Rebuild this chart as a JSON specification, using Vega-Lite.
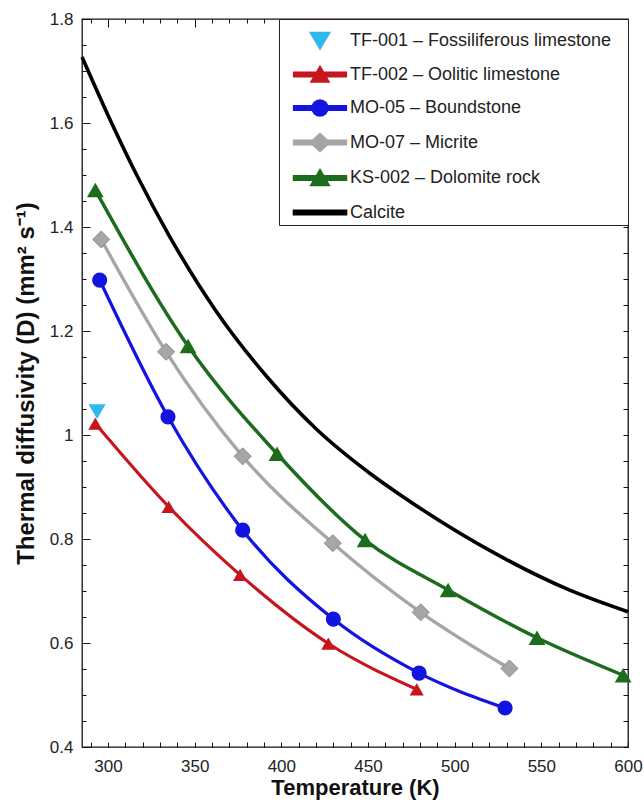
{
  "$schema": "https://vega.github.io/schema/vega-lite/v6.json",
  "width": 546,
  "height": 728,
  "autosize": "none",
  "padding": {"left": 82, "top": 19, "right": 16, "bottom": 58},
  "background": "white",
  "config": {"view": {"stroke": "#111", "strokeWidth": 1.3}},
  "data": {"values": [
    {"series": "TF-001 – Fossiliferous limestone", "T": 293.7, "D": 1.045},
    {"series": "TF-002 – Oolitic limestone", "T": 292.7, "D": 1.022},
    {"series": "TF-002 – Oolitic limestone", "T": 335.0, "D": 0.862},
    {"series": "TF-002 – Oolitic limestone", "T": 376.2, "D": 0.731},
    {"series": "TF-002 – Oolitic limestone", "T": 427.1, "D": 0.599},
    {"series": "TF-002 – Oolitic limestone", "T": 478.1, "D": 0.511},
    {"series": "MO-05 – Boundstone", "T": 295.2, "D": 1.298},
    {"series": "MO-05 – Boundstone", "T": 334.6, "D": 1.035},
    {"series": "MO-05 – Boundstone", "T": 377.7, "D": 0.817},
    {"series": "MO-05 – Boundstone", "T": 430.0, "D": 0.646},
    {"series": "MO-05 – Boundstone", "T": 479.5, "D": 0.542},
    {"series": "MO-05 – Boundstone", "T": 529.1, "D": 0.475},
    {"series": "MO-07 – Micrite", "T": 296.1, "D": 1.376},
    {"series": "MO-07 – Micrite", "T": 333.5, "D": 1.160},
    {"series": "MO-07 – Micrite", "T": 377.7, "D": 0.959},
    {"series": "MO-07 – Micrite", "T": 429.7, "D": 0.792},
    {"series": "MO-07 – Micrite", "T": 480.4, "D": 0.659},
    {"series": "MO-07 – Micrite", "T": 531.6, "D": 0.551},
    {"series": "KS-002 – Dolomite rock", "T": 292.7, "D": 1.471},
    {"series": "KS-002 – Dolomite rock", "T": 346.2, "D": 1.171},
    {"series": "KS-002 – Dolomite rock", "T": 397.5, "D": 0.964},
    {"series": "KS-002 – Dolomite rock", "T": 448.3, "D": 0.798},
    {"series": "KS-002 – Dolomite rock", "T": 496.2, "D": 0.702},
    {"series": "KS-002 – Dolomite rock", "T": 547.5, "D": 0.610},
    {"series": "KS-002 – Dolomite rock", "T": 597.2, "D": 0.538},
    {"series": "Calcite", "T": 285.0, "D": 1.727},
    {"series": "Calcite", "T": 300.0, "D": 1.615},
    {"series": "Calcite", "T": 316.7, "D": 1.499},
    {"series": "Calcite", "T": 335.0, "D": 1.385},
    {"series": "Calcite", "T": 362.0, "D": 1.240},
    {"series": "Calcite", "T": 391.7, "D": 1.112},
    {"series": "Calcite", "T": 420.0, "D": 1.012},
    {"series": "Calcite", "T": 451.2, "D": 0.926},
    {"series": "Calcite", "T": 472.5, "D": 0.876},
    {"series": "Calcite", "T": 526.2, "D": 0.767},
    {"series": "Calcite", "T": 564.7, "D": 0.704},
    {"series": "Calcite", "T": 600.0, "D": 0.660}
  ]},
  "resolve": {"axis": {"x": "independent", "y": "independent"}},
  "layer": [
    {
      "mark": {"type": "point", "filled": true, "opacity": 0, "size": 50},
      "encoding": {
        "x": {"field": "T", "type": "quantitative",
          "scale": {"domain": [285, 600], "nice": false, "zero": false},
          "axis": {"orient": "bottom", "title": "Temperature (K)", "domain": false, "ticks": false,
            "values": [290,300,310,320,330,340,350,360,370,380,390,400,410,420,430,440,450,460,470,480,490,500,510,520,530,540,550,560,570,580,590,600],
            "labelExpr": "datum.value % 50 === 0 ? datum.label : ''",
            "grid": true, "gridColor": "#111", "gridOpacity": 1, "gridWidth": 1,
            "gridDash": {"condition": {"test": "datum.value % 50 === 0", "value": [8, 2000]}, "value": [4, 2000]},
            "labelOverlap": false, "labelFlush": false,
            "labelFont": "Liberation Sans", "labelFontSize": 17, "labelColor": "#222", "labelPadding": 11,
            "titleFont": "Liberation Sans", "titleFontSize": 22, "titleFontWeight": "bold", "titleColor": "#111", "titlePadding": 3}},
        "y": {"field": "D", "type": "quantitative",
          "scale": {"domain": [0.4, 1.8], "nice": false, "zero": false},
          "axis": {"orient": "left", "title": "Thermal diffusivity (D) (mm² s⁻¹)", "domain": false, "ticks": false,
            "values": [0.4,0.45,0.5,0.55,0.6,0.65,0.7,0.75,0.8,0.85,0.9,0.95,1.0,1.05,1.1,1.15,1.2,1.25,1.3,1.35,1.4,1.45,1.5,1.55,1.6,1.65,1.7,1.75,1.8],
            "format": "~g",
            "labelExpr": "abs(datum.value*5 - round(datum.value*5)) < 0.001 ? datum.label : ''",
            "grid": true, "gridColor": "#111", "gridOpacity": 1, "gridWidth": 1,
            "gridDash": {"condition": {"test": "abs(datum.value*5 - round(datum.value*5)) < 0.001", "value": [8, 2000]}, "value": [4, 2000]},
            "labelOverlap": false, "labelFlush": false,
            "labelFont": "Liberation Sans", "labelFontSize": 17, "labelColor": "#222", "labelPadding": 9,
            "titleFont": "Liberation Sans", "titleFontSize": 24, "titleFontWeight": "bold", "titleColor": "#111", "titlePadding": 11}},
        "color": {"field": "series", "type": "nominal",
          "scale": {"domain": ["TF-001 – Fossiliferous limestone", "TF-002 – Oolitic limestone", "MO-05 – Boundstone", "MO-07 – Micrite", "KS-002 – Dolomite rock", "Calcite"],
            "range": ["#2fb8ee", "#c8141c", "#1414e0", "#a6a6a6", "#1d6b1d", "#000000"]},
          "legend": {"title": null, "orient": "top-right", "offset": 0, "padding": 3,
            "strokeColor": "#222", "fillColor": "white",
            "symbolSize": 1156, "symbolStrokeWidth": 0, "symbolOpacity": 1, "symbolFillColor": "#000000",
            "symbolOffset": 19, "labelOffset": 11, "rowPadding": 1.5,
            "labelFont": "Liberation Sans", "labelFontSize": 18, "labelColor": "#222", "labelLimit": 400,
            "labelExpr": "datum.label + '\u2800'"}},
        "shape": {"field": "series", "type": "nominal",
          "scale": {"domain": ["TF-001 – Fossiliferous limestone", "TF-002 – Oolitic limestone", "MO-05 – Boundstone", "MO-07 – Micrite", "KS-002 – Dolomite rock", "Calcite"],
            "range": [
              "M-0.5,-0.42 L0.5,-0.42 L0,0.42 Z",
              "M-1.5,-0.08 L1.5,-0.08 L1.5,0.08 L-1.5,0.08 Z M0,-0.39 L0.45,0.39 L-0.45,0.39 Z",
              "M-1.5,-0.08 L1.5,-0.08 L1.5,0.08 L-1.5,0.08 Z M-0.42,0 A0.42,0.42 0 1,1 0.42,0 A0.42,0.42 0 1,1 -0.42,0 Z",
              "M-1.5,-0.08 L1.5,-0.08 L1.5,0.08 L-1.5,0.08 Z M0,-0.45 L0.5,0 L0,0.45 L-0.5,0 Z",
              "M-1.5,-0.075 L1.5,-0.075 L1.5,0.075 L-1.5,0.075 Z M0,-0.39 L0.45,0.39 L-0.45,0.39 Z",
              "M-1.5,-0.07 L1.5,-0.07 L1.5,0.07 L-1.5,0.07 Z"
            ]},
          "legend": {"title": null, "orient": "top-right", "offset": 0, "padding": 3,
            "strokeColor": "#222", "fillColor": "white",
            "symbolSize": 1156, "symbolStrokeWidth": 0, "symbolOpacity": 1, "symbolFillColor": "#000000",
            "symbolOffset": 19, "labelOffset": 11, "rowPadding": 1.5,
            "labelFont": "Liberation Sans", "labelFontSize": 18, "labelColor": "#222", "labelLimit": 400,
            "labelExpr": "datum.label + '\u2800'"}}
      }
    },
    {
      "mark": {"type": "line", "interpolate": "monotone"},
      "encoding": {
        "x": {"field": "T", "type": "quantitative",
          "axis": {"orient": "top", "title": null, "labels": false, "domain": false, "ticks": false,
            "values": [290,300,310,320,330,340,350,360,370,380,390,400,410,420,430,440,450,460,470,480,490,500,510,520,530,540,550,560,570,580,590,600],
            "grid": true, "gridColor": "#111", "gridOpacity": 1, "gridWidth": 1, "gridDash": [5, 2000]}},
        "y": {"field": "D", "type": "quantitative",
          "axis": {"orient": "right", "title": null, "labels": false, "domain": false, "ticks": false,
            "values": [0.4,0.45,0.5,0.55,0.6,0.65,0.7,0.75,0.8,0.85,0.9,0.95,1.0,1.05,1.1,1.15,1.2,1.25,1.3,1.35,1.4,1.45,1.5,1.55,1.6,1.65,1.7,1.75,1.8],
            "grid": true, "gridColor": "#111", "gridOpacity": 1, "gridWidth": 1, "gridDash": [5, 2000]}},
        "color": {"field": "series", "type": "nominal", "legend": null},
        "strokeWidth": {"field": "series", "type": "nominal", "legend": null,
          "scale": {"domain": ["TF-001 – Fossiliferous limestone", "TF-002 – Oolitic limestone", "MO-05 – Boundstone", "MO-07 – Micrite", "KS-002 – Dolomite rock", "Calcite"],
            "range": [3, 3.6, 3.8, 3.6, 3, 3]}}
      }
    },
    {
      "transform": [{"filter": "datum.series === 'TF-001 – Fossiliferous limestone'"}],
      "mark": {"type": "point", "shape": "triangle-down", "filled": true, "opacity": 1, "size": 290},
      "encoding": {
        "x": {"field": "T", "type": "quantitative", "axis": null},
        "y": {"field": "D", "type": "quantitative", "axis": null},
        "color": {"field": "series", "type": "nominal", "legend": null}
      }
    },
    {
      "transform": [{"filter": "datum.series === 'TF-002 – Oolitic limestone'"}],
      "mark": {"type": "point", "shape": "triangle-up", "filled": true, "opacity": 1, "size": 200},
      "encoding": {
        "x": {"field": "T", "type": "quantitative", "axis": null},
        "y": {"field": "D", "type": "quantitative", "axis": null},
        "color": {"field": "series", "type": "nominal", "legend": null}
      }
    },
    {
      "transform": [{"filter": "datum.series === 'KS-002 – Dolomite rock'"}],
      "mark": {"type": "point", "shape": "triangle-up", "filled": true, "opacity": 1, "size": 280},
      "encoding": {
        "x": {"field": "T", "type": "quantitative", "axis": null},
        "y": {"field": "D", "type": "quantitative", "axis": null},
        "color": {"field": "series", "type": "nominal", "legend": null}
      }
    },
    {
      "transform": [{"filter": "datum.series === 'MO-05 – Boundstone'"}],
      "mark": {"type": "point", "shape": "circle", "filled": true, "opacity": 1, "size": 230},
      "encoding": {
        "x": {"field": "T", "type": "quantitative", "axis": null},
        "y": {"field": "D", "type": "quantitative", "axis": null},
        "color": {"field": "series", "type": "nominal", "legend": null}
      }
    },
    {
      "transform": [{"filter": "datum.series === 'MO-07 – Micrite'"}],
      "mark": {"type": "point", "shape": "diamond", "filled": true, "opacity": 1, "size": 290, "stroke": "#8c8c8c", "strokeWidth": 1},
      "encoding": {
        "x": {"field": "T", "type": "quantitative", "axis": null},
        "y": {"field": "D", "type": "quantitative", "axis": null},
        "color": {"field": "series", "type": "nominal", "legend": null}
      }
    }
  ]
}
